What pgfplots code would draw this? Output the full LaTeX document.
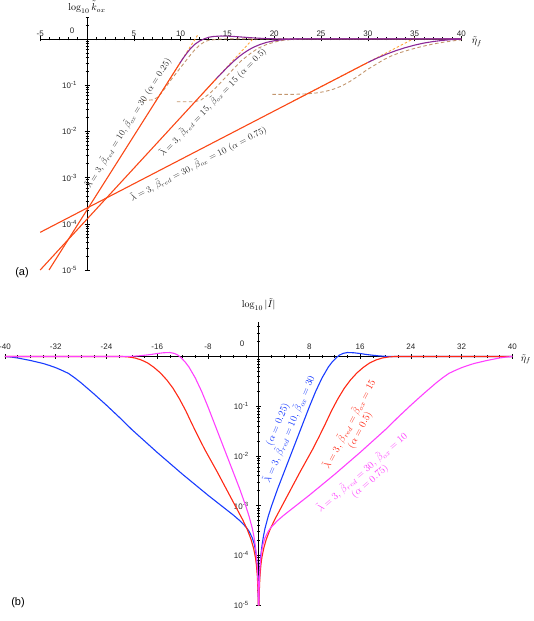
\documentclass[border=0pt]{standalone}
\usepackage{fontspec}
\setsansfont{Liberation Sans}
\usepackage{pgfplots}
\pgfplotsset{compat=1.18}
\definecolor{redA}{RGB}{250,72,22}
\definecolor{purp}{RGB}{140,40,150}
\definecolor{orD}{RGB}{255,168,60}
\definecolor{brD}{RGB}{195,150,110}
\definecolor{bB}{RGB}{25,60,255}
\definecolor{rB}{RGB}{255,40,20}
\definecolor{mB}{RGB}{255,64,255}
\definecolor{txt}{RGB}{45,45,45}
\pgfplotsset{
  myax/.style={
    scale only axis, anchor=south west, clip=false,
    axis lines=middle, axis line style={-, line width=0.7pt, black},
    tick align=center, major tick length=5pt, minor tick length=3pt,
    every tick/.style={black, line width=0.5pt},
    tick label style={font=\sffamily\fontsize{8}{9}\selectfont, text=black!85},
    ytick={-5,-4,-3,-2,-1},
    yticklabels={10\textsuperscript{-5},10\textsuperscript{-4},10\textsuperscript{-3},10\textsuperscript{-2},10\textsuperscript{-1}},
    yticklabel style={anchor=east, xshift=-4pt},
  }
}
\begin{document}
\begin{tikzpicture}[x=1pt,y=1pt]
\useasboundingbox (0,0) rectangle (534,621);
% ---------------- panel (a)
\begin{axis}[myax, at={(40.2pt,351pt)}, width=421.2pt, height=253.3pt,
  xmin=-5, xmax=40, ymin=-5, ymax=0.48,
  xtick={-5,0,5,10,15,20,25,30,35,40},
  xticklabels={-5,,5,10,15,20,25,30,35,40},
  minor x tick num=4,
  xticklabel style={anchor=south, yshift=1.5pt},
  minor ytick={-4.699,-4.523,-4.398,-4.301,-4.222,-4.155,-4.097,-4.046,
   -3.699,-3.523,-3.398,-3.301,-3.222,-3.155,-3.097,-3.046,
   -2.699,-2.523,-2.398,-2.301,-2.222,-2.155,-2.097,-2.046,
   -1.699,-1.523,-1.398,-1.301,-1.222,-1.155,-1.097,-1.046,
   -0.699,-0.523,-0.398,-0.301,-0.222,-0.155,-0.097,-0.046,0.301,0.477},
]
% brown dashed
\addplot[brD, line width=0.9pt, dash pattern=on 3.5pt off 2.5pt] coordinates {(6,-1.33) (7,-1.32) (7.5,-1.27) (8,-1.16) (8.5,-1.02) (9,-0.88) (9.5,-0.75) (10,-0.62) (10.5,-0.49) (11,-0.36) (11.5,-0.24) (12,-0.14) (12.5,-0.07) (13,-0.03) (14,-0.008) (15,0) (40,0)};
\addplot[brD, line width=0.9pt, dash pattern=on 3.5pt off 2.5pt] coordinates {(9.6,-1.36) (11.5,-1.36) (12.2,-1.32) (13,-1.2) (13.7,-1.07) (14.4,-0.92) (15.5,-0.68) (16.5,-0.47) (17.5,-0.31) (18.3,-0.2) (19.2,-0.12) (20.1,-0.065) (21,-0.03) (22,-0.012) (23,-0.003) (24,0) (40,0)};
\addplot[brD, line width=0.9pt, dash pattern=on 3.5pt off 2.5pt] coordinates {(19.8,-1.2) (22,-1.2) (23.5,-1.19) (24.5,-1.17) (25.4,-1.14) (26.3,-1.09) (27.2,-1.02) (28.1,-0.92) (29,-0.8) (29.9,-0.67) (30.8,-0.56) (31.7,-0.45) (32.5,-0.37) (33.4,-0.3) (34.3,-0.245) (35.2,-0.195) (36.1,-0.15) (37,-0.11) (38,-0.075) (39,-0.045) (40,-0.02)};
% orange dashed
\addplot[orD, line width=0.9pt, dash pattern=on 2.5pt off 2pt] coordinates {(7.3,-1.364) (11.8,0.076)};
\addplot[orD, line width=0.9pt, dash pattern=on 2.5pt off 2pt] coordinates {(12.3,-1.194) (17.8,0.016)};
\addplot[orD, line width=0.9pt, dash pattern=on 2.5pt off 2pt] coordinates {(22,-1.35) (35.2,0.036)};
% purple full curves
\addplot[purp, line width=1.1pt] coordinates {(9.9,-0.532) (10.3,-0.41) (10.7,-0.3) (11.1,-0.2) (11.5,-0.12) (12,-0.05) (12.5,0) (13,0.035) (13.5,0.052) (14.3,0.062) (15.2,0.058) (16,0.048) (17,0.033) (18,0.018) (19,0.008) (20,0.002) (21,0) (40,0)};
\addplot[purp, line width=1.1pt] coordinates {(13.8,-0.864) (14.3,-0.76) (14.8,-0.655) (15.3,-0.555) (15.8,-0.46) (16.3,-0.375) (16.8,-0.3) (17.3,-0.235) (17.8,-0.18) (18.5,-0.12) (19.2,-0.075) (20,-0.04) (21,-0.015) (22,-0.004) (23,0) (40,0)};
\addplot[purp, line width=1.1pt] coordinates {(30,-0.51) (31,-0.415) (32,-0.33) (33,-0.255) (34,-0.19) (35,-0.135) (36,-0.09) (37,-0.057) (38,-0.032) (39,-0.015) (40,-0.005)};
% red straight segments
\addplot[redA, line width=1.1pt] coordinates {(-4.06,-5) (9.9,-0.532)};
\addplot[redA, line width=1.1pt] coordinates {(-5,-5.0) (13.8,-0.864)};
\addplot[redA, line width=1.1pt] coordinates {(-5,-4.185) (30,-0.51)};
% labels
\node[font=\fontsize{8.8}{10}\selectfont, text=txt, rotate=57.7] at (axis cs:4.4,-1.82) {$\tilde{\lambda}=3,\,\tilde{\beta}_{red}=10,\,\tilde{\beta}_{ox}=30\ (\alpha=0.25)$};
\node[font=\fontsize{8.8}{10}\selectfont, text=txt, rotate=45.5] at (axis cs:13.45,-1.37) {$\tilde{\lambda}=3,\,\tilde{\beta}_{red}=15,\,\tilde{\beta}_{ox}=15\ (\alpha=0.5)$};
\node[font=\fontsize{8.8}{10}\selectfont, text=txt, rotate=27.4] at (axis cs:11.9,-2.7) {$\tilde{\lambda}=3,\,\tilde{\beta}_{red}=30,\,\tilde{\beta}_{ox}=10\ (\alpha=0.75)$};
\node[font=\sffamily\fontsize{8}{9}\selectfont, text=black!85, anchor=south, yshift=1.5pt] at (axis cs:-1.6,0) {0};
\node[font=\fontsize{10}{12}\selectfont, anchor=south, yshift=0pt] at (axis cs:0,0.48) {$\log_{10}\tilde{k}_{ox}$};
\node[font=\fontsize{10}{12}\selectfont, anchor=west, xshift=7pt, yshift=-3pt] at (axis cs:40,0) {$\tilde{\eta}_f$};
\end{axis}
% ---------------- panel (b)
\begin{axis}[myax, at={(5pt,16pt)}, width=507.3pt, height=283.3pt,
  xmin=-40, xmax=40, ymin=-5, ymax=0.7,
  xtick={-40,-32,-24,-16,-8,0,8,16,24,32,40},
  xticklabels={-40,-32,-24,-16,-8,,8,16,24,32,40},
  minor x tick num=3,
  xticklabel style={anchor=south, yshift=6pt},
  minor ytick={-4.699,-4.523,-4.398,-4.301,-4.222,-4.155,-4.097,-4.046,
   -3.699,-3.523,-3.398,-3.301,-3.222,-3.155,-3.097,-3.046,
   -2.699,-2.523,-2.398,-2.301,-2.222,-2.155,-2.097,-2.046,
   -1.699,-1.523,-1.398,-1.301,-1.222,-1.155,-1.097,-1.046,
   -0.699,-0.523,-0.398,-0.301,-0.222,-0.155,-0.097,-0.046,0.301,0.477,0.602},
]
\addplot[bB, line width=1.1pt] coordinates {(-40,0) (-39,-0.012) (-38,-0.03) (-37,-0.055) (-36,-0.08) (-35,-0.11) (-34,-0.14) (-33,-0.18) (-32,-0.225) (-31,-0.28) (-30,-0.34) (-29,-0.43) (-28,-0.53) (-26,-0.75) (-24,-0.98) (-22,-1.22) (-20,-1.47) (-18,-1.7) (-16,-1.93) (-14,-2.15) (-12,-2.37) (-10,-2.58) (-8,-2.79) (-6,-2.99) (-4,-3.19) (-3,-3.3) (-2,-3.43) (-1.5,-3.52) (-1,-3.65) (-0.7,-3.77) (-0.5,-3.9) (-0.3,-4.1) (-0.2,-4.27) (-0.12,-4.48) (-0.07,-4.72) (-0.035,-5) (0.035,-5) (0.05,-4.85) (0.1,-4.55) (0.2,-4.25) (0.35,-4.0) (0.5,-3.83) (0.75,-3.62) (1,-3.46) (1.5,-3.22) (2,-3.02) (3,-2.66) (4,-2.33) (5,-2.0) (6,-1.67) (7,-1.34) (8,-1.01) (9,-0.7) (10,-0.43) (11,-0.21) (11.6,-0.11) (12.2,-0.03) (12.7,0.025) (13.3,0.062) (14,0.08) (15,0.075) (16,0.06) (17,0.04) (18,0.025) (19,0.012) (20,0.004) (21,0) (40,0)};
\addplot[rB, line width=1.1pt] coordinates {(-40,0) (-21.5,0) (-20.5,-0.01) (-19.5,-0.03) (-18.5,-0.07) (-17.5,-0.13) (-16.5,-0.22) (-15.5,-0.33) (-14.5,-0.47) (-13.5,-0.64) (-12.5,-0.85) (-11.5,-1.09) (-10.5,-1.36) (-9.5,-1.62) (-8.5,-1.87) (-7.5,-2.1) (-6.5,-2.33) (-5.5,-2.57) (-4.5,-2.81) (-3.5,-3.05) (-2.5,-3.29) (-1.8,-3.48) (-1.2,-3.68) (-0.8,-3.86) (-0.5,-4.05) (-0.35,-4.2) (-0.2,-4.43) (-0.1,-4.73) (-0.053,-5) (0.053,-5) (0.1,-4.73) (0.2,-4.43) (0.35,-4.2) (0.5,-4.05) (0.8,-3.86) (1.2,-3.68) (1.8,-3.48) (2.5,-3.29) (3.5,-3.05) (4.5,-2.81) (5.5,-2.57) (6.5,-2.33) (7.5,-2.1) (8.5,-1.87) (9.5,-1.62) (10.5,-1.36) (11.5,-1.09) (12.5,-0.85) (13.5,-0.64) (14.5,-0.47) (15.5,-0.33) (16.5,-0.22) (17.5,-0.13) (18.5,-0.07) (19.5,-0.03) (20.5,-0.01) (21.5,0) (40,0)};
\addplot[mB, line width=1.1pt] coordinates {(-40,0) (-21,0) (-20,0.004) (-19,0.012) (-18,0.025) (-17,0.04) (-16,0.06) (-15,0.075) (-14,0.08) (-13.3,0.062) (-12.7,0.025) (-12.2,-0.03) (-11.6,-0.11) (-11,-0.21) (-10,-0.43) (-9,-0.7) (-8,-1.01) (-7,-1.34) (-6,-1.67) (-5,-2.0) (-4,-2.33) (-3,-2.66) (-2,-3.02) (-1.5,-3.22) (-1,-3.46) (-0.75,-3.62) (-0.5,-3.83) (-0.35,-4.0) (-0.2,-4.25) (-0.1,-4.55) (-0.05,-4.85) (-0.035,-5) (0.035,-5) (0.07,-4.72) (0.12,-4.48) (0.2,-4.27) (0.3,-4.1) (0.5,-3.9) (0.7,-3.77) (1,-3.65) (1.5,-3.52) (2,-3.43) (3,-3.3) (4,-3.19) (6,-2.99) (8,-2.79) (10,-2.58) (12,-2.37) (14,-2.15) (16,-1.93) (18,-1.7) (20,-1.47) (22,-1.22) (24,-0.98) (26,-0.75) (28,-0.53) (29,-0.43) (30,-0.34) (31,-0.28) (32,-0.225) (33,-0.18) (34,-0.14) (35,-0.11) (36,-0.08) (37,-0.055) (38,-0.03) (39,-0.012) (40,0)};
% labels
\node[font=\fontsize{10}{11.5}\selectfont, text=bB, rotate=67, align=center] at (axis cs:3.95,-1.42) {$(\alpha=0.25)$\\ $\tilde{\lambda}=3,\,\tilde{\beta}_{red}=10,\,\tilde{\beta}_{ox}=30$};
\node[font=\fontsize{10}{11.5}\selectfont, text=rB, rotate=62, align=center] at (axis cs:15.1,-1.42) {$\tilde{\lambda}=3,\,\tilde{\beta}_{red}=\tilde{\beta}_{ox}=15$\\ $(\alpha=0.5)$};
\node[font=\fontsize{10}{11.5}\selectfont, text=mB, rotate=41, align=center] at (axis cs:16.9,-2.42) {$\tilde{\lambda}=3,\,\tilde{\beta}_{red}=30,\,\tilde{\beta}_{ox}=10$\\ $(\alpha=0.75)$};
\node[font=\sffamily\fontsize{8}{9}\selectfont, text=black!85, anchor=south, yshift=6pt] at (axis cs:-2.6,0) {0};
\node[font=\fontsize{10}{12}\selectfont, anchor=south, yshift=8pt] at (axis cs:0,0.7) {$\log_{10}|\tilde{I}|$};
\node[font=\fontsize{10}{12}\selectfont, anchor=west, xshift=5pt, yshift=-3pt] at (axis cs:40,0) {$\tilde{\eta}_f$};
\end{axis}
\node[font=\sffamily\fontsize{11}{13}\selectfont] at (22,348) {(a)};
\node[font=\sffamily\fontsize{11}{13}\selectfont] at (18,18) {(b)};
\end{tikzpicture}
\end{document}
